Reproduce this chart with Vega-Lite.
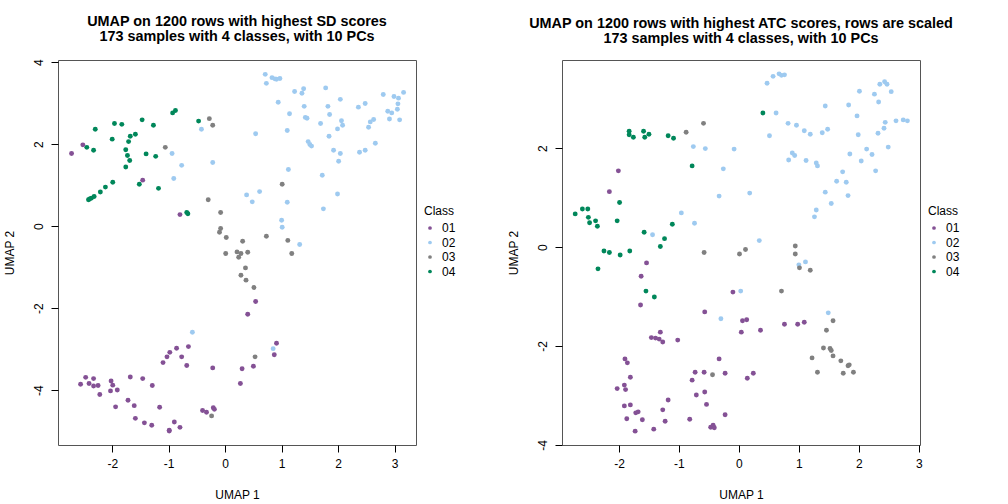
{
  "$schema": "https://vega.github.io/schema/vega-lite/v6.json",
  "padding": {"left": 2, "top": 13, "right": 0, "bottom": 0},
  "bounds": "flush",
  "spacing": 146,
  "config": {
    "font": "Liberation Sans",
    "view": {"stroke": "#555555", "strokeWidth": 1},
    "axis": {"grid": false, "domain": false, "tickColor": "#000000", "tickSize": 7, "labelFontSize": 12, "labelColor": "#000000", "titleFontSize": 12, "titleFontWeight": "normal", "titleColor": "#000000", "labelExpr": "'' + datum.value"},
    "legend": {"titleFontSize": 12, "titleFontWeight": "normal", "titleColor": "#000000", "labelFontSize": 12, "labelColor": "#000000", "symbolSize": 14, "symbolType": "circle", "symbolStrokeWidth": 0, "rowPadding": 2.5, "titlePadding": 4, "padding": 0, "labelOffset": 6}
  },
  "resolve": {"scale": {"x": "independent", "y": "independent", "color": "independent"}, "legend": {"color": "independent"}},
  "datasets": {
    "sd": [
      {"x":-0.88,"y":2.82,"class":"04"},{"x":-0.93,"y":2.76,"class":"04"},{"x":-1.96,"y":2.50,"class":"04"},{"x":-1.83,"y":2.48,"class":"04"},{"x":-1.47,"y":2.59,"class":"04"},{"x":-1.27,"y":2.46,"class":"04"},{"x":-0.47,"y":2.56,"class":"04"},{"x":-2.30,"y":2.36,"class":"04"},{"x":-2.0,"y":2.12,"class":"04"},{"x":-1.59,"y":2.24,"class":"04"},{"x":-1.68,"y":2.19,"class":"04"},{"x":-1.71,"y":2.06,"class":"04"},{"x":-2.45,"y":1.92,"class":"04"},{"x":-2.33,"y":1.85,"class":"04"},{"x":-1.76,"y":1.86,"class":"04"},{"x":-1.73,"y":1.72,"class":"04"},{"x":-1.69,"y":1.60,"class":"04"},{"x":-1.76,"y":1.44,"class":"04"},{"x":-1.40,"y":1.76,"class":"04"},{"x":-1.23,"y":1.70,"class":"04"},{"x":-1.99,"y":1.07,"class":"04"},{"x":-2.12,"y":0.95,"class":"04"},{"x":-2.21,"y":0.83,"class":"04"},{"x":-2.32,"y":0.72,"class":"04"},{"x":-2.37,"y":0.68,"class":"04"},{"x":-2.42,"y":0.64,"class":"04"},{"x":-2.40,"y":0.66,"class":"04"},{"x":-1.52,"y":1.02,"class":"04"},{"x":-1.18,"y":0.92,"class":"04"},{"x":-0.68,"y":0.33,"class":"04"},{"x":-0.66,"y":0.30,"class":"04"},
      {"x":-2.52,"y":1.98,"class":"01"},{"x":-2.72,"y":1.77,"class":"01"},{"x":-1.46,"y":1.12,"class":"01"},{"x":-0.80,"y":0.28,"class":"01"},{"x":0.54,"y":-1.84,"class":"01"},{"x":0.40,"y":-2.15,"class":"01"},{"x":0.91,"y":-2.86,"class":"01"},{"x":0.87,"y":-3.14,"class":"01"},{"x":0.30,"y":-3.48,"class":"01"},{"x":0.50,"y":-3.42,"class":"01"},{"x":0.27,"y":-3.84,"class":"01"},{"x":-0.65,"y":-2.94,"class":"01"},{"x":-0.86,"y":-2.98,"class":"01"},{"x":-0.98,"y":-3.08,"class":"01"},{"x":-1.03,"y":-3.19,"class":"01"},{"x":-1.10,"y":-3.33,"class":"01"},{"x":-0.77,"y":-3.19,"class":"01"},{"x":-0.68,"y":-3.40,"class":"01"},{"x":-0.22,"y":-3.46,"class":"01"},{"x":-2.47,"y":-3.69,"class":"01"},{"x":-2.33,"y":-3.72,"class":"01"},{"x":-2.56,"y":-3.86,"class":"01"},{"x":-2.41,"y":-3.84,"class":"01"},{"x":-2.33,"y":-3.90,"class":"01"},{"x":-2.25,"y":-3.89,"class":"01"},{"x":-2.22,"y":-4.11,"class":"01"},{"x":-2.02,"y":-3.78,"class":"01"},{"x":-1.99,"y":-3.88,"class":"01"},{"x":-2.03,"y":-4.02,"class":"01"},{"x":-1.91,"y":-4.00,"class":"01"},{"x":-1.68,"y":-3.68,"class":"01"},{"x":-1.46,"y":-3.72,"class":"01"},{"x":-1.29,"y":-3.89,"class":"01"},{"x":-1.94,"y":-4.41,"class":"01"},{"x":-1.72,"y":-4.25,"class":"01"},{"x":-1.61,"y":-4.38,"class":"01"},{"x":-1.59,"y":-4.69,"class":"01"},{"x":-1.43,"y":-4.80,"class":"01"},{"x":-1.30,"y":-4.86,"class":"01"},{"x":-1.16,"y":-4.42,"class":"01"},{"x":-0.99,"y":-4.98,"class":"01"},{"x":-0.99,"y":-5.0,"class":"01"},{"x":-0.90,"y":-4.78,"class":"01"},{"x":-0.80,"y":-4.91,"class":"01"},{"x":-0.40,"y":-4.50,"class":"01"},{"x":-0.33,"y":-4.54,"class":"01"},{"x":-0.21,"y":-4.43,"class":"01"},{"x":-0.19,"y":-4.47,"class":"01"},
      {"x":-0.42,"y":2.36,"class":"02"},{"x":-0.94,"y":1.77,"class":"02"},{"x":-0.77,"y":1.48,"class":"02"},{"x":-0.22,"y":1.55,"class":"02"},{"x":-0.91,"y":1.16,"class":"02"},{"x":0.71,"y":3.70,"class":"02"},{"x":0.73,"y":3.48,"class":"02"},{"x":0.83,"y":3.62,"class":"02"},{"x":0.91,"y":3.58,"class":"02"},{"x":0.88,"y":3.59,"class":"02"},{"x":0.97,"y":3.60,"class":"02"},{"x":1.23,"y":3.28,"class":"02"},{"x":1.36,"y":3.24,"class":"02"},{"x":1.39,"y":3.35,"class":"02"},{"x":1.78,"y":3.37,"class":"02"},{"x":0.94,"y":3.02,"class":"02"},{"x":1.40,"y":2.92,"class":"02"},{"x":1.14,"y":2.74,"class":"02"},{"x":1.42,"y":2.65,"class":"02"},{"x":1.45,"y":2.63,"class":"02"},{"x":1.82,"y":2.92,"class":"02"},{"x":1.85,"y":2.72,"class":"02"},{"x":2.04,"y":3.09,"class":"02"},{"x":1.69,"y":2.50,"class":"02"},{"x":2.06,"y":2.57,"class":"02"},{"x":2.08,"y":2.46,"class":"02"},{"x":1.99,"y":2.37,"class":"02"},{"x":1.10,"y":2.33,"class":"02"},{"x":0.54,"y":2.25,"class":"02"},{"x":1.84,"y":2.19,"class":"02"},{"x":1.47,"y":2.06,"class":"02"},{"x":1.50,"y":1.99,"class":"02"},{"x":1.53,"y":1.95,"class":"02"},{"x":1.92,"y":1.85,"class":"02"},{"x":2.04,"y":1.77,"class":"02"},{"x":2.01,"y":1.58,"class":"02"},{"x":2.36,"y":2.90,"class":"02"},{"x":2.48,"y":2.99,"class":"02"},{"x":2.80,"y":3.21,"class":"02"},{"x":2.99,"y":3.16,"class":"02"},{"x":3.07,"y":3.12,"class":"02"},{"x":3.16,"y":3.26,"class":"02"},{"x":3.06,"y":2.98,"class":"02"},{"x":3.05,"y":2.85,"class":"02"},{"x":2.88,"y":2.80,"class":"02"},{"x":2.95,"y":2.76,"class":"02"},{"x":2.91,"y":2.61,"class":"02"},{"x":3.09,"y":2.59,"class":"02"},{"x":2.57,"y":2.54,"class":"02"},{"x":2.63,"y":2.60,"class":"02"},{"x":2.54,"y":2.41,"class":"02"},{"x":2.66,"y":2.02,"class":"02"},{"x":2.38,"y":1.80,"class":"02"},{"x":2.48,"y":1.85,"class":"02"},{"x":1.12,"y":1.38,"class":"02"},{"x":1.72,"y":1.24,"class":"02"},{"x":0.38,"y":0.76,"class":"02"},{"x":0.61,"y":0.84,"class":"02"},{"x":0.48,"y":0.59,"class":"02"},{"x":1.10,"y":0.58,"class":"02"},{"x":1.99,"y":0.78,"class":"02"},{"x":1.74,"y":0.42,"class":"02"},{"x":1.00,"y":0.14,"class":"02"},{"x":1.01,"y":-0.03,"class":"02"},{"x":1.32,"y":-0.45,"class":"02"},{"x":0.85,"y":-2.99,"class":"02"},{"x":-0.58,"y":-2.59,"class":"02"},
      {"x":-0.28,"y":2.62,"class":"03"},{"x":-0.22,"y":2.46,"class":"03"},{"x":-1.06,"y":1.92,"class":"03"},{"x":-0.30,"y":0.64,"class":"03"},{"x":-0.08,"y":0.33,"class":"03"},{"x":-0.08,"y":-0.06,"class":"03"},{"x":-0.10,"y":-0.15,"class":"03"},{"x":0.02,"y":-0.28,"class":"03"},{"x":0.01,"y":-0.67,"class":"03"},{"x":0.21,"y":-0.63,"class":"03"},{"x":1.01,"y":1.02,"class":"03"},{"x":0.31,"y":-0.37,"class":"03"},{"x":0.73,"y":-0.25,"class":"03"},{"x":1.11,"y":-0.35,"class":"03"},{"x":0.28,"y":-0.67,"class":"03"},{"x":0.40,"y":-0.64,"class":"03"},{"x":1.18,"y":-0.67,"class":"03"},{"x":0.24,"y":-0.76,"class":"03"},{"x":0.36,"y":-1.02,"class":"03"},{"x":0.28,"y":-1.20,"class":"03"},{"x":0.37,"y":-1.32,"class":"03"},{"x":0.51,"y":-1.50,"class":"03"},{"x":0.53,"y":-3.19,"class":"03"},{"x":-0.24,"y":-4.63,"class":"03"}
    ],
    "atc": [
      {"x":-1.83,"y":2.34,"class":"04"},{"x":-1.83,"y":2.27,"class":"04"},{"x":-1.76,"y":2.22,"class":"04"},{"x":-1.59,"y":2.34,"class":"04"},{"x":-1.50,"y":2.28,"class":"04"},{"x":-1.57,"y":2.22,"class":"04"},{"x":-1.18,"y":2.25,"class":"04"},{"x":-1.09,"y":2.20,"class":"04"},{"x":-0.78,"y":1.64,"class":"04"},{"x":-1.99,"y":0.90,"class":"04"},{"x":-2.61,"y":0.77,"class":"04"},{"x":-2.52,"y":0.77,"class":"04"},{"x":-2.73,"y":0.67,"class":"04"},{"x":-2.51,"y":0.60,"class":"04"},{"x":-2.39,"y":0.53,"class":"04"},{"x":-2.49,"y":0.49,"class":"04"},{"x":-2.36,"y":0.42,"class":"04"},{"x":-2.03,"y":0.53,"class":"04"},{"x":-1.11,"y":0.46,"class":"04"},{"x":-1.58,"y":0.30,"class":"04"},{"x":-1.24,"y":0.17,"class":"04"},{"x":-1.31,"y":0.01,"class":"04"},{"x":-2.25,"y":-0.08,"class":"04"},{"x":-2.16,"y":-0.11,"class":"04"},{"x":-1.98,"y":-0.16,"class":"04"},{"x":-1.82,"y":-0.08,"class":"04"},{"x":-2.35,"y":-0.44,"class":"04"},{"x":-1.55,"y":-0.89,"class":"04"},{"x":-1.41,"y":-1.01,"class":"04"},{"x":0.40,"y":2.71,"class":"04"},
      {"x":-2.01,"y":1.54,"class":"01"},{"x":-2.16,"y":1.12,"class":"01"},{"x":-1.54,"y":-0.32,"class":"01"},{"x":-1.63,"y":-0.59,"class":"01"},{"x":-1.64,"y":-1.17,"class":"01"},{"x":-1.31,"y":-1.72,"class":"01"},{"x":-1.46,"y":-1.83,"class":"01"},{"x":-1.39,"y":-1.84,"class":"01"},{"x":-1.33,"y":-1.86,"class":"01"},{"x":-1.27,"y":-1.92,"class":"01"},{"x":-1.02,"y":-1.88,"class":"01"},{"x":-0.57,"y":-1.31,"class":"01"},{"x":-0.10,"y":-0.91,"class":"01"},{"x":0.06,"y":-1.49,"class":"01"},{"x":0.04,"y":-1.72,"class":"01"},{"x":-1.90,"y":-2.26,"class":"01"},{"x":-1.86,"y":-2.34,"class":"01"},{"x":-1.81,"y":-2.63,"class":"01"},{"x":-1.91,"y":-2.79,"class":"01"},{"x":-1.89,"y":-2.88,"class":"01"},{"x":-2.03,"y":-2.86,"class":"01"},{"x":-1.91,"y":-3.21,"class":"01"},{"x":-1.81,"y":-3.19,"class":"01"},{"x":-1.72,"y":-3.35,"class":"01"},{"x":-1.68,"y":-3.33,"class":"01"},{"x":-1.61,"y":-3.49,"class":"01"},{"x":-1.87,"y":-3.47,"class":"01"},{"x":-1.73,"y":-3.72,"class":"01"},{"x":-1.42,"y":-3.68,"class":"01"},{"x":-1.23,"y":-3.52,"class":"01"},{"x":-1.27,"y":-3.29,"class":"01"},{"x":-1.18,"y":-3.09,"class":"01"},{"x":-0.82,"y":-3.48,"class":"01"},{"x":-0.47,"y":-3.64,"class":"01"},{"x":-0.43,"y":-3.60,"class":"01"},{"x":-0.41,"y":-3.65,"class":"01"},{"x":-0.23,"y":-3.39,"class":"01"},{"x":-0.54,"y":-3.18,"class":"01"},{"x":-0.57,"y":-2.93,"class":"01"},{"x":-0.71,"y":-2.99,"class":"01"},{"x":-0.78,"y":-2.69,"class":"01"},{"x":-0.73,"y":-2.53,"class":"01"},{"x":-0.58,"y":-2.53,"class":"01"},{"x":-0.23,"y":-2.55,"class":"01"},{"x":-0.33,"y":-2.26,"class":"01"},{"x":0.13,"y":-1.47,"class":"01"},{"x":0.36,"y":-1.68,"class":"01"},{"x":0.76,"y":-1.56,"class":"01"},{"x":0.98,"y":-1.56,"class":"01"},{"x":1.09,"y":-1.52,"class":"01"},{"x":0.24,"y":-2.55,"class":"01"},{"x":0.14,"y":-2.65,"class":"01"},
      {"x":-0.76,"y":2.03,"class":"02"},{"x":-0.56,"y":1.99,"class":"02"},{"x":-0.08,"y":1.98,"class":"02"},{"x":-0.26,"y":1.58,"class":"02"},{"x":-0.33,"y":1.03,"class":"02"},{"x":-0.96,"y":0.69,"class":"02"},{"x":-0.74,"y":0.48,"class":"02"},{"x":-1.44,"y":0.25,"class":"02"},{"x":0.03,"y":-0.89,"class":"02"},{"x":-0.30,"y":-1.45,"class":"02"},{"x":0.47,"y":3.31,"class":"02"},{"x":0.57,"y":3.45,"class":"02"},{"x":0.67,"y":3.50,"class":"02"},{"x":0.71,"y":3.47,"class":"02"},{"x":0.76,"y":3.48,"class":"02"},{"x":0.62,"y":2.71,"class":"02"},{"x":0.51,"y":2.25,"class":"02"},{"x":0.82,"y":2.50,"class":"02"},{"x":0.96,"y":2.46,"class":"02"},{"x":1.09,"y":2.35,"class":"02"},{"x":1.19,"y":2.28,"class":"02"},{"x":1.39,"y":2.31,"class":"02"},{"x":1.48,"y":2.38,"class":"02"},{"x":1.44,"y":2.85,"class":"02"},{"x":1.83,"y":2.87,"class":"02"},{"x":2.01,"y":3.15,"class":"02"},{"x":1.97,"y":2.65,"class":"02"},{"x":1.99,"y":2.27,"class":"02"},{"x":2.26,"y":3.09,"class":"02"},{"x":2.33,"y":2.93,"class":"02"},{"x":2.35,"y":3.29,"class":"02"},{"x":2.43,"y":3.34,"class":"02"},{"x":2.47,"y":3.29,"class":"02"},{"x":2.54,"y":3.14,"class":"02"},{"x":2.44,"y":2.52,"class":"02"},{"x":2.42,"y":2.40,"class":"02"},{"x":2.32,"y":2.30,"class":"02"},{"x":2.62,"y":2.55,"class":"02"},{"x":2.74,"y":2.57,"class":"02"},{"x":2.81,"y":2.55,"class":"02"},{"x":2.49,"y":2.02,"class":"02"},{"x":2.13,"y":1.98,"class":"02"},{"x":2.22,"y":1.87,"class":"02"},{"x":2.04,"y":1.74,"class":"02"},{"x":2.28,"y":1.54,"class":"02"},{"x":1.85,"y":1.88,"class":"02"},{"x":0.89,"y":1.90,"class":"02"},{"x":0.93,"y":1.85,"class":"02"},{"x":0.83,"y":1.76,"class":"02"},{"x":1.12,"y":1.75,"class":"02"},{"x":1.29,"y":1.70,"class":"02"},{"x":1.31,"y":1.64,"class":"02"},{"x":1.73,"y":1.52,"class":"02"},{"x":1.63,"y":1.33,"class":"02"},{"x":1.79,"y":1.31,"class":"02"},{"x":1.44,"y":1.11,"class":"02"},{"x":1.82,"y":1.04,"class":"02"},{"x":1.54,"y":0.88,"class":"02"},{"x":1.29,"y":0.75,"class":"02"},{"x":1.26,"y":0.61,"class":"02"},{"x":0.18,"y":1.09,"class":"02"},{"x":0.34,"y":0.13,"class":"02"},{"x":1.00,"y":-0.36,"class":"02"},{"x":1.11,"y":-0.30,"class":"02"},{"x":1.49,"y":-1.33,"class":"02"},
      {"x":-0.59,"y":2.50,"class":"03"},{"x":-0.88,"y":2.32,"class":"03"},{"x":-0.58,"y":-0.11,"class":"03"},{"x":0.01,"y":-0.14,"class":"03"},{"x":0.11,"y":-0.05,"class":"03"},{"x":0.94,"y":0.02,"class":"03"},{"x":0.94,"y":-0.14,"class":"03"},{"x":1.01,"y":-0.42,"class":"03"},{"x":1.19,"y":-0.47,"class":"03"},{"x":0.71,"y":-0.89,"class":"03"},{"x":1.57,"y":-1.49,"class":"03"},{"x":1.46,"y":-1.68,"class":"03"},{"x":1.41,"y":-2.04,"class":"03"},{"x":1.52,"y":-2.05,"class":"03"},{"x":1.54,"y":-2.09,"class":"03"},{"x":1.57,"y":-2.20,"class":"03"},{"x":1.22,"y":-2.24,"class":"03"},{"x":1.70,"y":-2.30,"class":"03"},{"x":1.82,"y":-2.40,"class":"03"},{"x":1.84,"y":-2.38,"class":"03"},{"x":1.31,"y":-2.53,"class":"03"},{"x":1.74,"y":-2.55,"class":"03"},{"x":1.91,"y":-2.53,"class":"03"},{"x":-0.44,"y":-2.58,"class":"03"}
    ]
  },
  "hconcat": [
    {
      "width": 358, "height": 385,
      "title": {"text": ["UMAP on 1200 rows with highest SD scores", "173 samples with 4 classes, with 10 PCs"], "fontSize": 14.4, "fontWeight": "bold", "lineHeight": 15, "offset": 14, "anchor": "middle", "color": "#000000"},
      "data": {"name": "sd"},
      "mark": {"type": "circle", "size": 24, "opacity": 1},
      "encoding": {
        "x": {"field": "x", "type": "quantitative", "scale": {"domain": [-2.96, 3.38], "nice": false, "zero": false}, "axis": {"title": "UMAP 1", "values": [-2, -1, 0, 1, 2, 3], "labelPadding": 6, "titlePadding": 20}},
        "y": {"field": "y", "type": "quantitative", "scale": {"domain": [-5.34, 4.05], "nice": false, "zero": false}, "axis": {"title": "UMAP 2", "values": [-4, -2, 0, 2, 4], "labelAngle": -90, "labelPadding": 6, "titlePadding": 16}},
        "color": {"field": "class", "type": "nominal", "scale": {"domain": ["01", "02", "03", "04"], "range": ["#845195", "#9ECAF0", "#808080", "#00875A"]}, "legend": {"title": "Class", "orient": "none", "legendX": 366, "legendY": 146}}
      }
    },
    {
      "width": 358, "height": 385,
      "title": {"text": ["UMAP on 1200 rows with highest ATC scores, rows are scaled", "173 samples with 4 classes, with 10 PCs"], "fontSize": 14.4, "fontWeight": "bold", "lineHeight": 15, "offset": 14, "anchor": "middle", "color": "#000000"},
      "data": {"name": "atc"},
      "mark": {"type": "circle", "size": 24, "opacity": 1},
      "encoding": {
        "x": {"field": "x", "type": "quantitative", "scale": {"domain": [-2.95, 3.02], "nice": false, "zero": false}, "axis": {"title": "UMAP 1", "values": [-2, -1, 0, 1, 2, 3], "labelPadding": 6, "titlePadding": 20}},
        "y": {"field": "y", "type": "quantitative", "scale": {"domain": [-4.0, 3.78], "nice": false, "zero": false}, "axis": {"title": "UMAP 2", "values": [-4, -2, 0, 2], "labelAngle": -90, "labelPadding": 6, "titlePadding": 16}},
        "color": {"field": "class", "type": "nominal", "scale": {"domain": ["01", "02", "03", "04"], "range": ["#845195", "#9ECAF0", "#808080", "#00875A"]}, "legend": {"title": "Class", "orient": "none", "legendX": 366, "legendY": 146}}
      }
    }
  ]
}
